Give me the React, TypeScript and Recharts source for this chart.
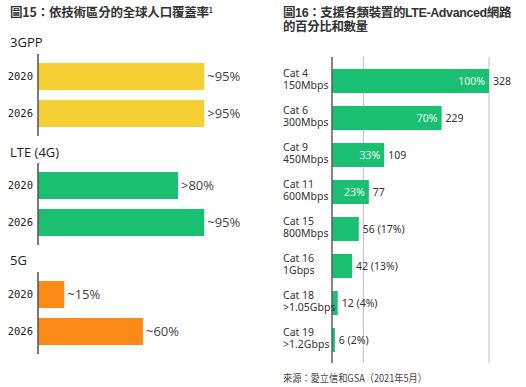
import React from "react";
import { BarChart, Bar, XAxis, YAxis, CartesianGrid, LabelList } from "recharts";

// ---- Figure 15 data ----
const years = ["2020", "2026"];
const gppValues = [95, 95];
const gppLabels = ["~95%", ">95%"];
const lteValues = [80, 95];
const lteLabels = [">80%", "~95%"];
const nrValues = [15, 60];
const nrLabels = ["~15%", "~60%"];

// ---- Figure 16 data ----
const catNames = ["Cat 4", "Cat 6", "Cat 9", "Cat 11", "Cat 15", "Cat 16", "Cat 18", "Cat 19"];
const catSpeeds = ["150Mbps", "300Mbps", "450Mbps", "600Mbps", "800Mbps", "1Gbps", ">1.05Gbps", ">1.2Gbps"];
const networkCounts = [328, 229, 109, 77, 56, 42, 12, 6];
const insideLabels = ["100%", "70%", "33%", "23%", "", "", "", ""];
const outsideLabels = ["328", "229", "109", "77", "56 (17%)", "42 (13%)", "12 (4%)", "6 (2%)"];
const gridPercents = [0, 20, 40, 60, 80, 100];

const YELLOW = "#F6CF35";
const GREEN = "#1ABF71";
const ORANGE = "#FB8A17";
const CJK = "'Noto Sans CJK TC', 'Noto Sans', sans-serif";
const LEFT_FONT = "'Open Sans', 'DejaVu Sans', sans-serif";
const RIGHT_FONT = "'Noto Sans', 'Noto Sans CJK TC', sans-serif";

const buildSection = (vals: number[], labels: string[]) =>
  years.map((y, i) => ({ year: y, value: vals[i], label: labels[i] }));

const rightData = catNames.map((c, i) => ({
  name: c,
  speed: catSpeeds[i],
  count: networkCounts[i],
  inside: insideLabels[i],
  outside: outsideLabels[i],
}));
const maxCount = networkCounts[0];
const gridTicks = gridPercents.map((p) => (p / 100) * maxCount);

function Section({ top, data, color }: { top: number; data: any[]; color: string }) {
  return (
    <div style={{ position: "absolute", left: 0, top }}>
      <BarChart
        width={260}
        height={82}
        data={data}
        layout="vertical"
        margin={{ top: 0, right: 47, bottom: 0, left: 0 }}
      >
        <XAxis type="number" domain={[0, 100]} hide />
        <YAxis
          type="category"
          dataKey="year"
          width={38}
          padding={{ top: 4, bottom: 4 }}
          tickLine={false}
          tickSize={0}
          tickMargin={5}
          axisLine={{ stroke: "#5a5a5a", strokeWidth: 1.6 }}
          tick={{ fontFamily: "'DejaVu Sans Mono', monospace", fontSize: 10.5, fill: "#222" }}
        />
        <Bar dataKey="value" fill={color} barSize={27} isAnimationActive={false}>
          <LabelList
            dataKey="label"
            position="right"
            offset={3}
            style={{ fontFamily: LEFT_FONT, fontSize: 13, fill: "#444" }}
          />
        </Bar>
      </BarChart>
    </div>
  );
}

function CatTick(props: any) {
  const { y, payload } = props;
  const idx = catNames.indexOf(payload.value);
  return (
    <text x={23} y={y} fontFamily={RIGHT_FONT} fontSize={10.5} fill="#333" textAnchor="start">
      <tspan x={23} dy={-4}>{payload.value}</tspan>
      <tspan x={23} dy={12.5}>{catSpeeds[idx]}</tspan>
    </text>
  );
}

const titleStyle: React.CSSProperties = {
  position: "absolute",
  fontFamily: CJK,
  fontWeight: 700,
  fontSize: 12.5,
  lineHeight: "14px",
  color: "#333",
  whiteSpace: "nowrap",
  margin: 0,
};

export default function App() {
  return (
    <div
      style={{
        position: "absolute",
        left: 0,
        top: 0,
        width: 526,
        height: 387,
        background: "#fff",
        overflow: "hidden",
      }}
    >
      <div style={{ ...titleStyle, left: 10, top: 5, letterSpacing: "-0.2px" }}>
        圖15：依技術區分的全球人口覆蓋率
        <sup style={{ fontSize: 7, verticalAlign: "top", lineHeight: "10px" }}>1</sup>
      </div>
      <div
        style={{
          ...titleStyle,
          fontFamily: "'Liberation Sans', 'Noto Sans CJK TC', sans-serif",
          left: 283,
          top: 6,
          letterSpacing: "-0.4px",
        }}
      >
        圖16：支援各類裝置的LTE-Advanced網路
        <br />
        的百分比和數量
      </div>

      <svg width={526} height={387} style={{ position: "absolute", left: 0, top: 0 }}>
        <text x={10} y={47} fontFamily={LEFT_FONT} fontSize={13} fill="#222">3GPP</text>
        <text x={10} y={157} fontFamily={LEFT_FONT} fontSize={13} fill="#222">LTE (4G)</text>
        <text x={10} y={265} fontFamily={LEFT_FONT} fontSize={13} fill="#222">5G</text>
        <text x={283} y={382} fontFamily={CJK} fontSize={10.5} fill="#444"
          textLength={144} lengthAdjust="spacingAndGlyphs">
          來源：愛立信和GSA（2021年5月）
        </text>
      </svg>

      <Section top={54} data={buildSection(gppValues, gppLabels)} color={YELLOW} />
      <Section top={163} data={buildSection(lteValues, lteLabels)} color={GREEN} />
      <Section top={272} data={buildSection(nrValues, nrLabels)} color={ORANGE} />

      <div style={{ position: "absolute", left: 260, top: 57 }}>
        <BarChart
          width={266}
          height={306}
          data={rightData}
          layout="vertical"
          margin={{ top: 0, right: 37, bottom: 0, left: 0 }}
        >
          <CartesianGrid horizontal={false} stroke="#c9c9c9" strokeWidth={1.2} />
          <XAxis type="number" domain={[0, maxCount]} ticks={gridTicks} hide />
          <YAxis
            type="category"
            dataKey="name"
            width={72}
            padding={{ top: 5, bottom: 5 }}
            tickLine={false}
            axisLine={{ stroke: "#555", strokeWidth: 1.3 }}
            tick={<CatTick />}
            interval={0}
          />
          <Bar dataKey="count" fill={GREEN} barSize={24} isAnimationActive={false}>
            <LabelList
              dataKey="inside"
              position="insideRight"
              offset={4}
              style={{ fontFamily: RIGHT_FONT, fontSize: 10.5, fill: "#e6fbef" }}
            />
            <LabelList
              dataKey="outside"
              position="right"
              offset={4}
              style={{ fontFamily: RIGHT_FONT, fontSize: 10.5, fill: "#333" }}
            />
          </Bar>
        </BarChart>
      </div>
    </div>
  );
}
